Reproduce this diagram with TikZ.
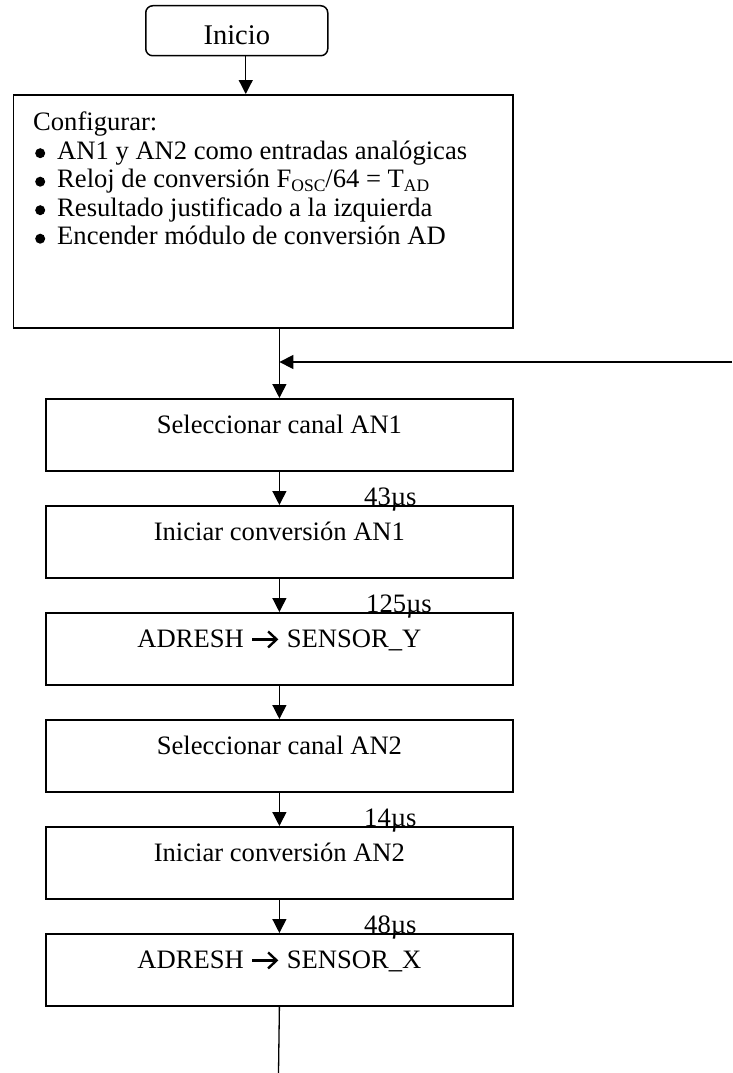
\documentclass[tikz,border=0pt]{standalone}
\usepackage{fontspec}
\setmainfont{Liberation Serif}
\usetikzlibrary{arrows.meta}
% subscript in running text
\newcommand\lowtxt[1]{\raisebox{-0.16em}{\fontsize{17.5}{17.5}\selectfont #1}}
% round list bullet
\newcommand\listdot{\tikz[baseline=0pt,x=1pt,y=1pt]\fill (5,6) circle (5pt);}
% bold chevron arrow used in assignments
\newcommand\chevarrow{\hspace{7pt}\tikz[baseline=0pt,x=1pt,y=1pt]{%
  \draw[line width=2.4pt] (0,8.5) -- (24,8.5);
  \draw[line width=2.4pt, line join=miter] (16,0.5) -- (24.5,8.5) -- (16,16.5);}\hspace{9pt}}
\begin{document}
\begin{tikzpicture}[x=1pt,y=-1pt,
  txt/.style={font=\fontsize{26.6}{28.5}\selectfont},
  stepbox/.style={draw, line width=1.8pt, rectangle, inner sep=0pt,
    minimum width=467pt, text height=35pt, text depth=37pt,
    anchor=north west, txt},
  flow/.style={line width=1.3pt, -{Triangle[length=14pt,width=14pt]}},
  plain/.style={line width=1.3pt},
  tlabel/.style={anchor=base west, inner sep=0pt, txt},
]
\useasboundingbox (0,0) rectangle (732,1073);

% start terminal
\node[draw, line width=1.5pt, rounded corners=7pt, inner sep=0pt,
  minimum width=182pt, text height=39pt, text depth=11pt,
  anchor=north west, font=\fontsize{28.5}{30}\selectfont] (ini) at (145,5) {Inicio};

% configuration block
\node[draw, line width=1.8pt, inner sep=0pt, minimum width=499.5pt,
  minimum height=233pt, anchor=north west] (cfg) at (12.5,94) {};
\node[anchor=base west, inner sep=0pt, txt] (cfgtxt) at (33,130.7)
  {\parbox[t]{470pt}{\fontsize{26.6}{28.5}\selectfont
   Configurar:\\
   \makebox[24pt][l]{\hspace*{2pt}\listdot}AN1 y AN2 como entradas analógicas\\
   \makebox[24pt][l]{\hspace*{2pt}\listdot}Reloj de conversión F\lowtxt{OSC}/64 = T\lowtxt{AD}\\
   \makebox[24pt][l]{\hspace*{2pt}\listdot}Resultado justificado a la izquierda\\
   \makebox[24pt][l]{\hspace*{2pt}\listdot}Encender módulo de conversión AD}};

% process steps
\node[stepbox] (s1) at (45,398) {Seleccionar canal AN1};
\node[stepbox] (i1) at (45,505) {Iniciar conversión AN1};
\node[stepbox] (a1) at (45,612) {ADRESH\chevarrow SENSOR\_Y};
\node[stepbox] (s2) at (45,719) {Seleccionar canal AN2};
\node[stepbox] (i2) at (45,826) {Iniciar conversión AN2};
\node[stepbox] (a2) at (45,933) {ADRESH\chevarrow SENSOR\_X};

% timing labels
\node[tlabel] (t1) at ([xshift=319pt]i1.north west) {43µs};
\node[tlabel] (t2) at ([xshift=321pt]a1.north west) {125µs};
\node[tlabel] (t3) at ([xshift=319pt]i2.north west) {14µs};
\node[tlabel] (t4) at ([xshift=319pt]a2.north west) {48µs};

% connectors
\coordinate (ret) at (732,362);
\coordinate (fin) at (278.5,1073);
\draw[flow] ([xshift=9pt]ini.south) -- ([xshift=9pt]ini.south |- cfg.north);
\draw[flow] (cfg.south -| s1.north) -- (s1.north);
\draw[flow] (ret) -- (ret -| s1.north);
\draw[flow] (s1.south) -- (i1.north);
\draw[flow] (i1.south) -- (a1.north);
\draw[flow] (a1.south) -- (s2.north);
\draw[flow] (s2.south) -- (i2.north);
\draw[flow] (i2.south) -- (a2.north);
\draw[plain] (a2.south) -- (fin);
\end{tikzpicture}
\end{document}
